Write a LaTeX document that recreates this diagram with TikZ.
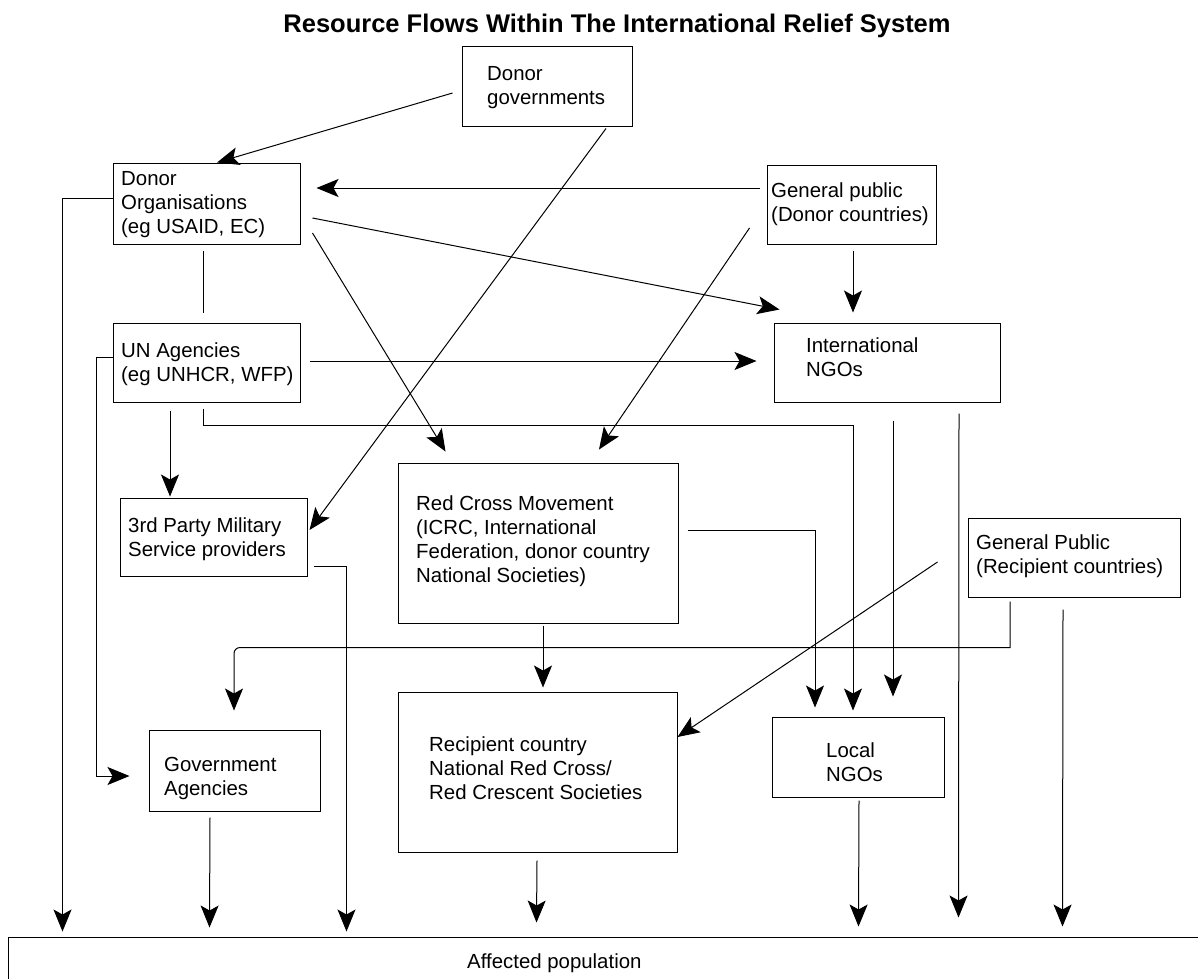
\documentclass[tikz,border=0pt]{standalone}
\usepackage{fontspec}
\setmainfont{Liberation Sans}
\usetikzlibrary{calc,arrows.meta}
\newcommand\bodyfont{\fontsize{20.4}{24}\selectfont}
\newcommand\headfont{\fontsize{25.5}{30}\selectfont\bfseries}
\tikzset{
  box/.style={draw, line width=1pt, rectangle, inner sep=0pt},
  txt/.style={font=\bodyfont, align=left, inner sep=0pt, anchor=base west},
  flow/.style={line width=1pt, -{Stealth[length=22pt,width=18pt,inset=5pt]}},
  link/.style={line width=1pt},
}
\begin{document}
\begin{tikzpicture}[x=1pt,y=-1pt]
\useasboundingbox (0,0) rectangle (1198,978);
\fill[white] (0,0) rectangle (1198,978);

% title
\node[font=\headfont, inner sep=0pt, anchor=base] (title) at (617,32) {Resource Flows Within The International Relief System};

% boxes
\node[box, minimum width=170pt, minimum height=80pt] (dg) at (547,86) {};
\node[box, minimum width=187pt, minimum height=81pt] (do) at (206.5,203.5) {};
\node[box, minimum width=169pt, minimum height=79pt] (gpd) at (851.5,204.5) {};
\node[box, minimum width=187pt, minimum height=79pt] (un) at (206.5,362.5) {};
\node[box, minimum width=226pt, minimum height=79pt] (ingo) at (887,362.5) {};
\node[box, minimum width=280pt, minimum height=160pt] (rcm) at (538,543) {};
\node[box, minimum width=187pt, minimum height=78pt] (tp) at (213.5,537) {};
\node[box, minimum width=212pt, minimum height=79pt] (gpr) at (1074,557.5) {};
\node[box, minimum width=171pt, minimum height=81pt] (gov) at (234.5,770.5) {};
\node[box, minimum width=279pt, minimum height=160pt] (rcn) at (537.5,772) {};
\node[box, minimum width=172pt, minimum height=80pt] (lngo) at (858,757) {};
\node[box, minimum width=1202pt, minimum height=63pt] (aff) at (609,968.5) {};

% texts (anchored at the baseline of the last line)
\node[txt] (dgt) at (487,104) {Donor\\governments};
\node[txt] (dot) at (121,233) {Donor\\Organisations\\(eg USAID, EC)};
\node[txt] (gpdt) at (771,221) {General public\\(Donor countries)};
\node[txt] (unt) at (121,381) {UN Agencies\\(eg UNHCR, WFP)};
\node[txt] (ingot) at (806,376) {International\\NGOs};
\node[txt] (rcmt) at (416,582) {Red Cross Movement\\(ICRC, International\\Federation, donor country\\National Societies)};
\node[txt] (tpt) at (128,556) {3rd Party Military\\Service providers};
\node[txt] (gprt) at (976,573) {General Public\\(Recipient countries)};
\node[txt] (govt) at (164,795) {Government\\Agencies};
\node[txt] (rcnt) at (429,799) {Recipient country\\National Red Cross/\\Red Crescent Societies};
\node[txt] (lngot) at (826,781) {Local\\NGOs};
\node[txt] (afft) at (467,968) {Affected population};

% connectors
\draw[flow] ($(dg.west)+(-9,7)$) -- ($(do.north)+(10.5,0)$);
\draw[flow] ($(dg.south)+(59,2)$) -- ($(tp.east)+(2,-7)$);
\draw[flow] ($(gpd.west)+(-7,-16.5)$) -- ($(do.east)+(16,-15.5)$);
\draw[flow] ($(do.east)+(12,14.5)$) -- ($(ingo.north west)+(6,-13)$);
\draw[flow] ($(do.east)+(12,29.5)$) -- ($(rcm.north west)+(48,-11)$);
\draw[flow] ($(gpd.west)+(-17,23.5)$) -- ($(rcm.north)+(61,-13)$);
\draw[flow] ($(gpd.south)+(1.5,6)$) -- ($(ingo.north)+(-34,-10)$);
\draw[link] ($(do.south)+(-3.5,6)$) -- ($(un.north)+(-3.5,-10)$);
\draw[flow] ($(do.west)+(0,-5.5)$) -| ($(aff.north west)+(55,-5)$);
\draw[flow] ($(un.west)+(0,-5.5)$) -- ++(-16,0) |- ($(gov.west)+(-19,5.5)$);
\draw[flow] ($(un.east)+(9,-1.5)$) -- ($(ingo.west)+(-17,-1.5)$);
\draw[flow] ($(un.south)+(-36.5,8)$) -- ($(tp.north)+(-43.5,-1)$);
\draw[flow] ($(un.south)+(-3.5,6)$) -- ++(0,17) -| ($(lngo.north)+(-5,-6)$);
\draw[flow] ($(ingo.south)+(6,18)$) -- ($(lngo.north)+(35,-20)$);
\draw[flow] ($(ingo.south)+(72,11)$) -- ($(aff.north west)+(951,-19)$);
\draw[flow] ($(rcm.east)+(9,-13)$) -| ($(lngo.north)+(-43,-9)$);
\draw[flow] ($(rcm.south)+(5,2)$) -- ($(rcn.north)+(5.5,-4)$);
\draw[flow] ($(gpr.west)+(-30,4.5)$) -- ($(rcn.east)+(0,-35)$);
\draw[flow] ($(gpr.south)+(-64,4)$) -- ++(0,46) [rounded corners=6pt] -| ($(gov.north)+(-0.5,-19)$);
\draw[flow] ($(gpr.south)+(-11,12)$) -- ($(aff.north west)+(1055,-10)$);
\draw[flow] ($(tp.east)+(6,29)$) -| ($(aff.north west)+(339,-5)$);
\draw[flow] ($(gov.south)+(-24.5,6)$) -- ($(aff.north west)+(202,-9)$);
\draw[flow] ($(rcn.south)+(-0.5,8)$) -- ($(aff.north west)+(529,-14)$);
\draw[flow] ($(lngo.south)+(1,3)$) -- ($(aff.north west)+(851,-10)$);
\end{tikzpicture}
\end{document}
